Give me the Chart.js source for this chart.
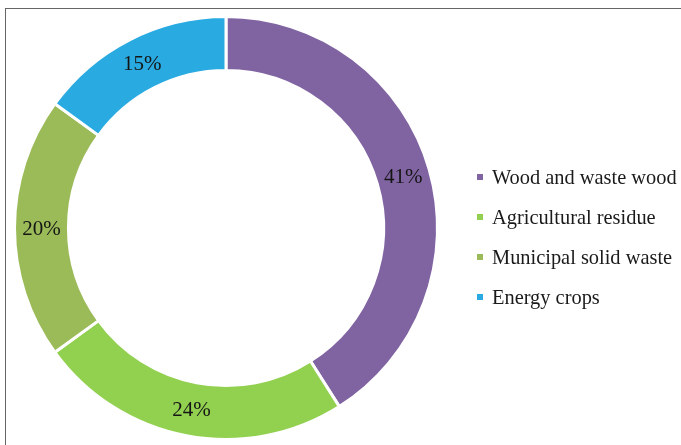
<!DOCTYPE html>
<html>
<head>
<meta charset="utf-8">
<script src="https://cdn.jsdelivr.net/npm/chart.js@4.4.1/dist/chart.umd.min.js"></script>
<style>
  html, body { margin: 0; padding: 0; background: #fff; overflow: hidden; }
  #wrap { position: relative; width: 681px; height: 445px; }
  /* frame: only the top and left edges fall inside the view */
  #frame {
    position: absolute; left: 5px; top: 8px; width: 720px; height: 480px;
    border-left: 1px solid #666; border-top: 1px solid #666;
  }
  #chart { position: absolute; left: 0; top: 0; }
  #legend {
    position: absolute; left: 477px; top: 157px; margin: 0; padding: 0;
    list-style: none; font-family: 'Liberation Serif', 'Times New Roman', serif;
    font-size: 20.4px; color: #1a1a1a;
  }
  #legend li { height: 40px; line-height: 40px; white-space: nowrap; }
  #legend span.sw {
    display: inline-block; width: 6px; height: 6px; margin-right: 9px;
    vertical-align: middle; position: relative; top: -2px;
  }
</style>
</head>
<body>
<div id="wrap">
  <div id="frame"></div>
  <canvas id="chart" width="681" height="445"></canvas>
  <ul id="legend"></ul>
</div>
<script>
  var LABELS = ['Wood and waste wood', 'Agricultural residue', 'Municipal solid waste', 'Energy crops'];
  var SHARES = [41, 24, 20, 15];
  var COLORS = ['#8064a2', '#92d050', '#9bbb59', '#29abe2'];

  var SERIF = "'Liberation Serif', 'Times New Roman', serif";

  // percentage text centred in each ring segment
  var sliceLabels = {
    id: 'sliceLabels',
    afterDatasetsDraw: function (c) {
      var g = c.ctx;
      g.save();
      g.font = '21px ' + SERIF;
      g.fillStyle = '#151515';
      g.textAlign = 'center';
      g.textBaseline = 'middle';
      c.getDatasetMeta(0).data.forEach(function (arc, i) {
        var p = arc.tooltipPosition();
        g.fillText(SHARES[i] + '%', p.x, p.y + 1);
      });
      g.restore();
    }
  };

  // legend list built from the chart's own label generator
  var htmlLegend = {
    id: 'htmlLegend',
    afterUpdate: function (c) {
      var ul = document.getElementById('legend');
      ul.innerHTML = '';
      c.options.plugins.legend.labels.generateLabels(c).forEach(function (it) {
        var li = document.createElement('li');
        var sw = document.createElement('span');
        sw.className = 'sw';
        sw.style.background = it.fillStyle;
        li.appendChild(sw);
        li.appendChild(document.createTextNode(it.text));
        ul.appendChild(li);
      });
    }
  };

  new Chart(document.getElementById('chart'), {
    type: 'doughnut',
    data: {
      labels: LABELS,
      datasets: [{
        data: SHARES,
        backgroundColor: COLORS,
        borderColor: '#ffffff',
        borderWidth: 3,
        hoverOffset: 0
      }]
    },
    options: {
      responsive: false,
      animation: false,
      cutout: '74.5%',
      layout: { padding: { left: 13, top: 15, right: 242, bottom: 4 } },
      plugins: {
        legend: { display: false },
        tooltip: { enabled: false }
      }
    },
    plugins: [sliceLabels, htmlLegend]
  });
</script>
</body>
</html>
